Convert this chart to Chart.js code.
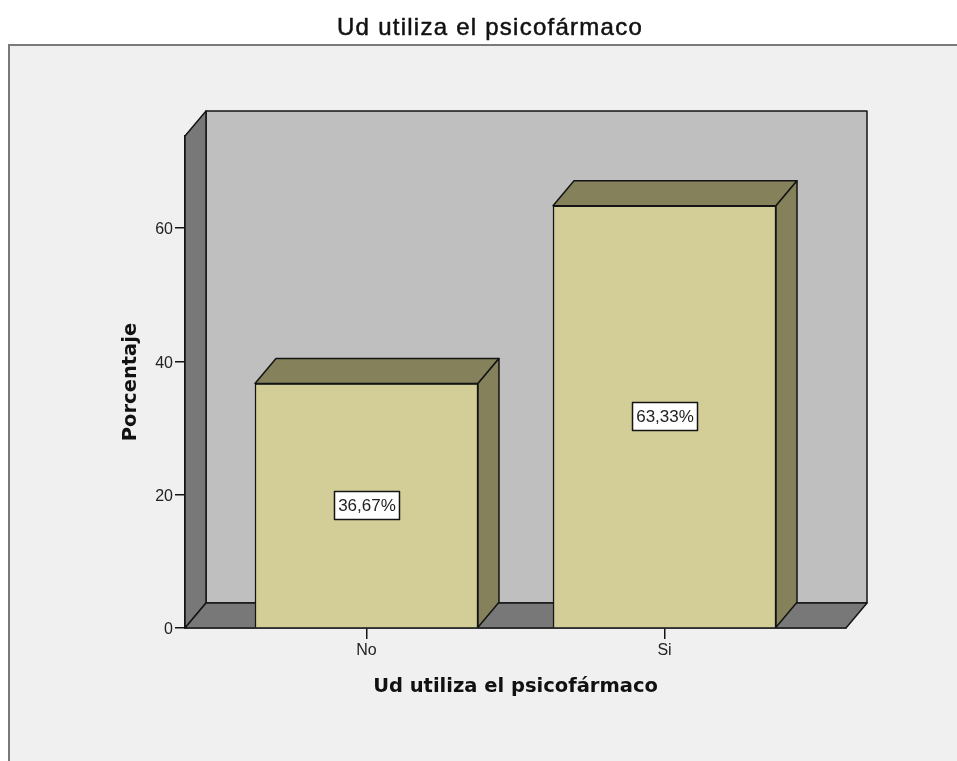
<!DOCTYPE html>
<html>
<head>
<meta charset="utf-8">
<style>
  html, body { margin: 0; height: 100%; background: #fff; overflow: hidden; }
  #frame { position: absolute; left: 8px; top: 44px; width: 960px; height: 730px; background: #f0f0f0; border: 2px solid #7a7a7a; }
  #grafico { position: absolute; left: 0; top: 0; }
</style>
<script src="https://cdn.jsdelivr.net/npm/chart.js@4"></script>
</head>
<body>
<div id="frame"></div>
<canvas id="grafico" width="957" height="761"></canvas>
<script>
const categorias = ['No', 'Si'];
const posiciones = [1, 2];
const porcentajes = [36.67, 63.33];
const etiquetas = ['36,67%', '63,33%'];
const ticksY = [0, 20, 40, 60];
const titulo = 'Ud utiliza el psicofármaco';
const tituloY = 'Porcentaje';

const fondoX = 21, fondoY = 25; // profundidad del efecto 3D
const linea = '#141414';

function poligono(ctx, puntos, relleno) {
  ctx.beginPath();
  puntos.forEach((p, i) => i ? ctx.lineTo(p[0], p[1]) : ctx.moveTo(p[0], p[1]));
  ctx.closePath();
  ctx.fillStyle = relleno;
  ctx.fill();
  ctx.stroke();
}

// paredes y piso detras de las barras
const paredes = {
  id: 'paredes',
  beforeDatasetsDraw(chart) {
    const { ctx, chartArea: a } = chart;
    ctx.save();
    ctx.strokeStyle = linea;
    ctx.lineWidth = 1.5;
    ctx.lineJoin = 'round';
    poligono(ctx, [[a.left + fondoX, a.top - fondoY], [a.right + fondoX, a.top - fondoY], [a.right + fondoX, a.bottom - fondoY], [a.left + fondoX, a.bottom - fondoY]], '#bfbfbf');
    poligono(ctx, [[a.left, a.top], [a.left + fondoX, a.top - fondoY], [a.left + fondoX, a.bottom - fondoY], [a.left, a.bottom]], '#787878');
    poligono(ctx, [[a.left, a.bottom], [a.left + fondoX, a.bottom - fondoY], [a.right + fondoX, a.bottom - fondoY], [a.right, a.bottom]], '#787878');
    ctx.restore();
  }
};

// caras superior y lateral de cada barra, etiquetas de valor y titulo
const caras = {
  id: 'caras',
  afterDatasetsDraw(chart) {
    const { ctx } = chart;
    ctx.save();
    ctx.strokeStyle = linea;
    ctx.lineWidth = 1.5;
    ctx.lineJoin = 'round';
    chart.getDatasetMeta(0).data.forEach(barra => {
      const izq = barra.x - barra.width / 2, der = barra.x + barra.width / 2;
      poligono(ctx, [[izq, barra.y], [izq + fondoX, barra.y - fondoY], [der + fondoX, barra.y - fondoY], [der, barra.y]], '#85825b');
      poligono(ctx, [[der, barra.y], [der + fondoX, barra.y - fondoY], [der + fondoX, barra.base - fondoY], [der, barra.base]], '#85825b');
    });
    ctx.font = '17px "Liberation Sans"';
    ctx.textAlign = 'center';
    ctx.textBaseline = 'middle';
    chart.getDatasetMeta(0).data.forEach((barra, i) => {
      const medio = (barra.y + barra.base) / 2;
      ctx.fillStyle = '#fff';
      ctx.fillRect(barra.x - 32, medio - 14, 65, 28);
      ctx.strokeRect(barra.x - 32, medio - 14, 65, 28);
      ctx.fillStyle = '#222';
      ctx.fillText(etiquetas[i], barra.x + 0.5, medio + 1);
    });
    // el titulo va centrado en 490, no en el lienzo
    ctx.font = '24px "Liberation Sans"';
    ctx.letterSpacing = '1.25px';
    ctx.fillStyle = '#111';
    ctx.strokeStyle = '#111';
    ctx.lineWidth = 0.5;
    ctx.fillText(titulo, 490, 28);
    ctx.strokeText(titulo, 490, 28);
    ctx.restore();
  }
};

const ctx = document.getElementById('grafico').getContext('2d');
new Chart(ctx, {
  type: 'bar',
  data: {
    datasets: [{
      data: posiciones.map((x, i) => ({ x: x, y: porcentajes[i] })),
      backgroundColor: '#d3ce97',
      borderColor: linea,
      borderWidth: 1.5,
      barThickness: 223
    }]
  },
  plugins: [paredes, caras],
  options: {
    responsive: false,
    animation: false,
    layout: { padding: { top: 136, right: 111 } },
    scales: {
      x: {
        type: 'linear',
        offset: false,
        min: 0.391,
        max: 2.609,
        z: 1,
        afterBuildTicks: scale => { scale.ticks = posiciones.map(v => ({ value: v })); },
        afterFit: scale => { scale.height = 133; },
        ticks: {
          autoSkip: false,
          maxRotation: 0,
          padding: 2,
          color: '#222',
          font: { size: 16, family: '"Liberation Sans"' },
          callback: v => categorias[posiciones.indexOf(v)]
        },
        grid: { offset: false, drawOnChartArea: false, tickLength: 11, color: linea, lineWidth: 1.5 },
        border: { color: linea, width: 1.5 },
        title: {
          display: true,
          text: titulo,
          color: '#111',
          font: { size: 19.5, weight: 'bold', family: '"DejaVu Sans"' },
          padding: { top: 0, bottom: 62 }
        }
      },
      y: {
        min: 0,
        max: 73.8,
        afterBuildTicks: scale => { scale.ticks = ticksY.map(v => ({ value: v })); },
        afterFit: scale => { scale.width = 185; },
        ticks: {
          padding: 2,
          labelOffset: 2,
          color: '#222',
          font: { size: 16, family: '"Liberation Sans"' }
        },
        grid: { drawOnChartArea: false, tickLength: 10, color: linea, lineWidth: 1.5 },
        border: { color: linea, width: 1.5 },
        title: {
          display: true,
          text: tituloY,
          color: '#111',
          font: { size: 19.5, weight: 'bold', family: '"DejaVu Sans"' },
          padding: { top: 119, bottom: 0 }
        }
      }
    },
    plugins: {
      legend: { display: false },
      tooltip: { enabled: false },
      title: { display: false }
    }
  }
});
</script>
</body>
</html>
